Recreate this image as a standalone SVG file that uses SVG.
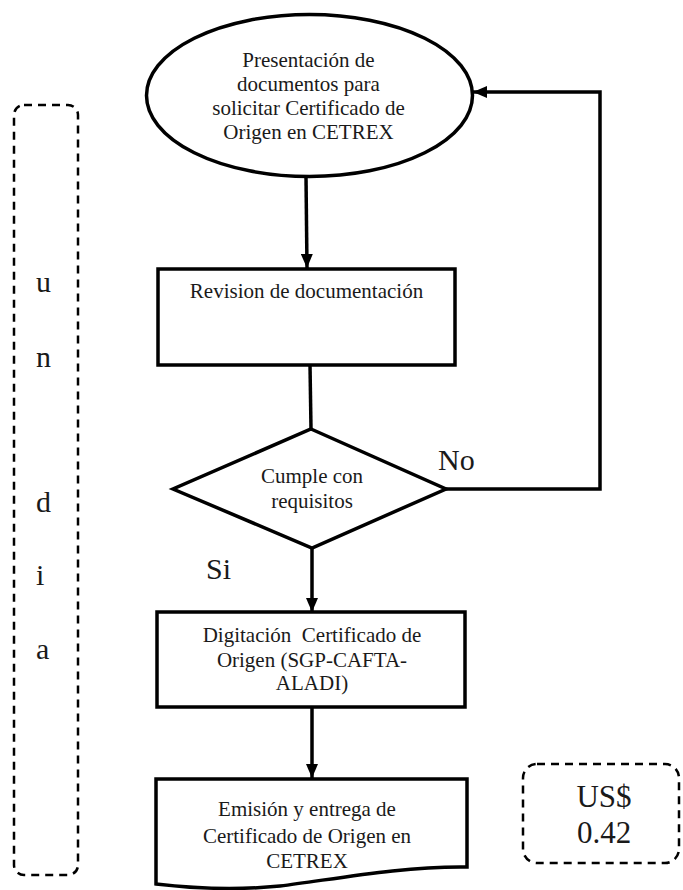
<svg xmlns="http://www.w3.org/2000/svg" width="683" height="890" viewBox="0 0 683 890">
<style>
.shape{fill:#fff;stroke:#000;stroke-width:3.5}
.dash{fill:none;stroke:#000;stroke-width:2.5;stroke-dasharray:8 6}
text{font-family:'Liberation Serif','Times New Roman','DejaVu Serif',serif;fill:#1a1a1a}
.t{font-size:21px;text-anchor:middle;white-space:pre}
.big{font-size:30px}
.conn{fill:none;stroke:#000;stroke-width:3.5}
</style>
<defs>
<marker id="arr" viewBox="0 0 14 12" refX="14" refY="6" markerWidth="14" markerHeight="12" markerUnits="userSpaceOnUse" orient="auto">
<path d="M0,0 L14,6 L0,12 Z" fill="#000"/>
</marker>
</defs>
<rect width="683" height="890" fill="#fff"/>
<g id="connectors">
<line class="conn" x1="306" y1="177" x2="307" y2="268" marker-end="url(#arr)"/>
<line class="conn" x1="310" y1="365" x2="311" y2="429"/>
<line class="conn" x1="312" y1="548" x2="312" y2="612" marker-end="url(#arr)"/>
<line class="conn" x1="312" y1="707" x2="312" y2="778" marker-end="url(#arr)"/>
<polyline class="conn" points="446,489 600,489 600,92 473,92" marker-end="url(#arr)"/>
</g>
<g id="start">
<ellipse class="shape" cx="309.5" cy="95.5" rx="163" ry="81"/>
<text class="t" x="308.5" y="67">Presentación de</text>
<text class="t" x="308.5" y="91">documentos para</text>
<text class="t" x="308.5" y="115">solicitar Certificado de</text>
<text class="t" x="308.5" y="139">Origen en CETREX</text>
</g>
<g id="revision">
<rect class="shape" x="158" y="269" width="297" height="96"/>
<text class="t" x="306.5" y="298">Revision de documentación</text>
</g>
<g id="decision">
<polygon class="shape" points="311,429 446,489 312,548 173,489"/>
<text class="t" x="312" y="483">Cumple con</text>
<text class="t" x="312" y="508">requisitos</text>
</g>
<g id="labels">
<text class="big" x="438" y="470">No</text>
<text class="big" x="206" y="579">Si</text>
</g>
<g id="digitacion">
<rect class="shape" x="157" y="612" width="308" height="95"/>
<text class="t" x="312" y="642">Digitación  Certificado de</text>
<text class="t" x="312" y="667">Origen (SGP-CAFTA-</text>
<text class="t" x="312" y="690">ALADI)</text>
</g>
<g id="emision">
<path class="shape" d="M156,779 L467,779 L467,867 C400,866 330,880 280,886 C230,891 190,888 156,884 Z"/>
<text class="t" x="307" y="816">Emisión y entrega de</text>
<text class="t" x="307" y="843">Certificado de Origen en</text>
<text class="t" x="307" y="868">CETREX</text>
</g>
<g id="tiempo">
<rect class="dash" x="14" y="105" width="64" height="770" rx="10"/>
<text class="big" x="36" y="292">u</text>
<text class="big" x="36" y="367">n</text>
<text class="big" x="36" y="512">d</text>
<text class="big" x="36" y="585">i</text>
<text class="big" x="36" y="659">a</text>
</g>
<g id="costo">
<rect class="dash" x="523" y="764" width="156" height="99" rx="14"/>
<text class="big" x="604" y="807" text-anchor="middle" style="font-size:31px">US$</text>
<text class="big" x="604" y="843" text-anchor="middle" style="font-size:31px">0.42</text>
</g>
</svg>
